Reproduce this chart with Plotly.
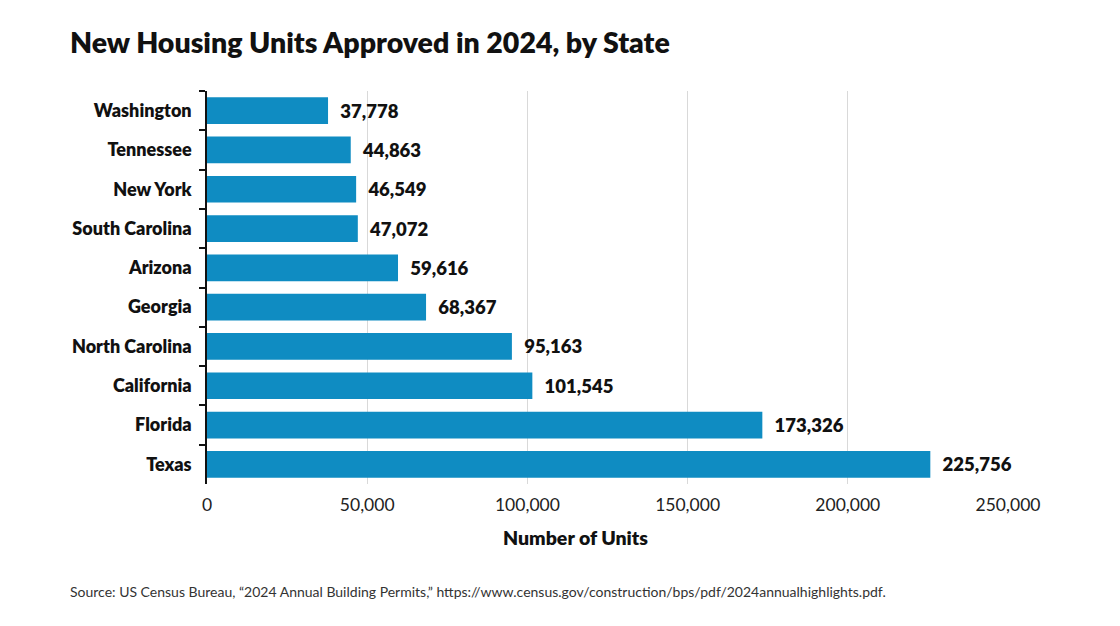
import plotly.graph_objects as go

states = ["Washington", "Tennessee", "New York", "South Carolina", "Arizona",
          "Georgia", "North Carolina", "California", "Florida", "Texas"]
units = [37778, 44863, 46549, 47072, 59616, 68367, 95163, 101545, 173326, 225756]
x_ticks = [0, 50000, 100000, 150000, 200000, 250000]
x_tick_labels = ["0", "50,000", "100,000", "150,000", "200,000", "250,000"]

OFF = 8  # page body margin
W, H = 1120 - OFF, 626 - OFF
L, R, T, B = 207 - OFF, 112, 91 - OFF, 142
PW, PH = W - L - R, H - T - B


def px_x(x):
    return (x - OFF - L) / PW


def px_y(y):
    return 1 - (y - OFF - T) / PH


fig = go.Figure(go.Bar(
    y=states, x=units, orientation="h",
    marker=dict(color="#0f8cc2", line=dict(width=0)),
    width=0.68,
    text=["\u2002" + f"{v:,}" for v in units], textposition="outside",
    textfont=dict(family="Lato", size=18.5, color="#111111", weight=800),
    cliponaxis=False, hoverinfo="skip",
))

fig.update_layout(
    width=W, height=H, margin=dict(l=L, r=R, t=T, b=B),
    paper_bgcolor="white", plot_bgcolor="white",
    font=dict(family="Lato", color="#111111"),
    showlegend=False,
)
fig.update_traces(textangle=0)
fig.update_xaxes(
    range=[0, 250000], tickvals=x_ticks, ticktext=x_tick_labels,
    showgrid=True, gridcolor="#d9d9d9", gridwidth=1, zeroline=False,
    showline=False, ticks="", tickfont=dict(size=17.5, color="#222222"),
    ticklabelstandoff=8,
)
fig.update_yaxes(
    categoryorder="array", categoryarray=states, autorange="reversed",
    showline=True, linecolor="#111111", linewidth=1.5,
    ticks="outside", tickson="boundaries", ticklen=6, tickwidth=1.5, tickcolor="#111111",
    tickfont=dict(size=18, color="#111111", weight=800),
    ticklabelstandoff=10, showgrid=False,
)

fig.add_annotation(text="New Housing Units Approved in 2024, by State",
                   xref="paper", yref="paper", x=px_x(68), y=px_y(42),
                   xanchor="left", yanchor="middle", showarrow=False,
                   font=dict(family="Lato", size=28.5, color="#111111", weight=800))
fig.add_annotation(text="Number of Units",
                   xref="paper", yref="paper", x=px_x(575), y=px_y(537),
                   xanchor="center", yanchor="middle", showarrow=False,
                   font=dict(family="Lato", size=19.5, color="#111111", weight=800))
fig.add_annotation(text="Source: US Census Bureau, \u201c2024 Annual Building Permits,\u201d https://www.census.gov/construction/bps/pdf/2024annualhighlights.pdf.",
                   xref="paper", yref="paper", x=px_x(68), y=px_y(591),
                   xanchor="left", yanchor="middle", showarrow=False,
                   font=dict(family="Lato", size=14, color="#333333"))

fig.write_html("out.html")
